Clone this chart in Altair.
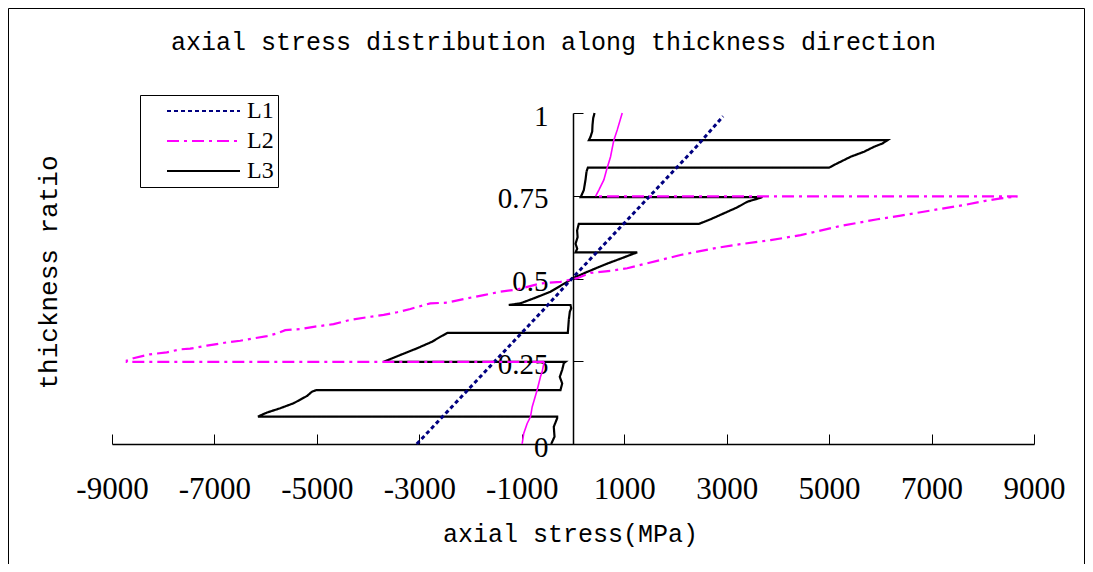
import altair as alt
import pandas as pd

# ---------------- data ----------------
series_names = ["L1", "L2", "L3"]
series_colors = ["#000080", "#FF00FF", "#000000"]
series_dash = [[4, 3], [12, 5, 3, 5], [1, 0]]

l1_x = [-3050, -2440, -1830, -1220, -610, -20, 590, 1200, 1810, 2420, 2930]
l1_y = [0.0, 0.1, 0.2, 0.3, 0.4, 0.5, 0.6, 0.7, 0.8, 0.9, 0.99]

l2_low_x = [-993, -962, -895, -830, -797, -700, -635, -602, -570, -560]
l2_low_y = [0.0, 0.032, 0.062, 0.082, 0.112, 0.163, 0.203, 0.218, 0.244, 0.248]

l2_mid_x = [-560, -8711, -8711, -8582, -8256, -7930, -7670, -7475, -7148, -6757,
            -6497, -6237, -5975, -5780, -5618, -5325, -5065, -4674, -4348, -4021,
            -3697, -3435, -3175, -2785, -2458, -2067, -1743, -1417, -1090, -635,
            -244, 82, 342, 733, 1059, 1450, 2100, 2751, 3142, 3859,
            4445, 5227, 5944, 6400, 7050, 7636, 8027, 8353, 8680, 440]
l2_mid_y = [0.248, 0.248, 0.252, 0.259, 0.271, 0.277, 0.286, 0.288, 0.297, 0.307,
            0.312, 0.319, 0.326, 0.334, 0.344, 0.347, 0.354, 0.362, 0.375, 0.383,
            0.390, 0.398, 0.408, 0.425, 0.427, 0.440, 0.450, 0.460, 0.467, 0.485,
            0.490, 0.501, 0.517, 0.523, 0.531, 0.546, 0.571, 0.591, 0.601, 0.616,
            0.631, 0.659, 0.679, 0.690, 0.707, 0.722, 0.734, 0.742, 0.748, 0.748]

l2_top_x = [440, 504, 602, 655, 733, 797, 864, 961]
l2_top_y = [0.748, 0.767, 0.798, 0.828, 0.868, 0.918, 0.949, 1.0]

l3_x = [-426, -361, -375, -309, -309, -6150, -5975, -5716, -5456, -5194,
        -5096, -5010, -244, -211, -258, -211, -180, -147, -3700, -3371,
        -3045, -2752, -2589, -2446, -101, -82, -62, -35, -49, -1254,
        -1026, -766, -440, -113, -16, 277, 668, 928, 1254, 50,
        82, 50, 90, 80, 113, 2458, 2687, 2947, 3208, 3404,
        3599, 3700, 150, 211, 244, 264, 290, 5000, 5162, 5423,
        5683, 5878, 6042, 6140, 310, 342, 375, 381, 394, 420]
l3_y = [0.0, 0.022, 0.052, 0.078, 0.083, 0.083, 0.095, 0.108, 0.123, 0.145,
        0.158, 0.163, 0.163, 0.183, 0.203, 0.224, 0.244, 0.248, 0.248, 0.269,
        0.289, 0.309, 0.324, 0.336, 0.336, 0.375, 0.400, 0.410, 0.420, 0.420,
        0.425, 0.440, 0.460, 0.490, 0.500, 0.520, 0.545, 0.560, 0.579, 0.579,
        0.590, 0.605, 0.625, 0.645, 0.665, 0.665, 0.679, 0.697, 0.715, 0.732,
        0.741, 0.746, 0.746, 0.767, 0.798, 0.823, 0.835, 0.835, 0.848, 0.868,
        0.883, 0.898, 0.908, 0.918, 0.918, 0.928, 0.944, 0.964, 0.984, 1.0]

x_ticks = [-9000, -7000, -5000, -3000, -1000, 1000, 3000, 5000, 7000, 9000]
y_ticks = [0, 0.25, 0.5, 0.75, 1]

title_text = "axial stress distribution along thickness direction"
x_title = "axial stress(MPa)"
y_title = "thickness ratio"


def frame(name, xs, ys, part="main"):
    return pd.DataFrame({"series": name, "part": part, "x": xs, "y": ys,
                         "i": list(range(len(xs)))})


df1 = frame("L1", l1_x, l1_y)
df2 = frame("L2", l2_mid_x, l2_mid_y)
df2s = pd.concat([frame("L2", l2_low_x, l2_low_y, "low"),
                  frame("L2", l2_top_x, l2_top_y, "top")])
df3 = frame("L3", l3_x, l3_y)

# ---------------- layout ----------------
W, H = 1077, 556
AX_X, AX_Y = 565, 436
MONO = "Liberation Mono"
SERIF = "Liberation Serif"

xscale = alt.Scale(domain=[-9000, 9000], range=[104, 1026], nice=False, zero=False)
yscale = alt.Scale(domain=[0, 1], range=[436, 105], nice=False, zero=False)
cscale = alt.Scale(domain=series_names, range=series_colors)
dscale = alt.Scale(domain=series_names, range=series_dash)

legend = alt.Legend(
    title=None, orient="none", legendX=132, legendY=87,
    symbolType="M1.1,0H8.4", symbolSize=400, symbolStrokeWidth=2,
    labelOffset=79, labelExpr="datum.label + '   '",
    labelFont=SERIF, labelFontSize=24, labelColor="black",
    padding=4, rowPadding=6, strokeColor="black", fillColor="white",
)

x_tick_axis = alt.Axis(orient="top", offset=-AX_Y, values=x_ticks, labels=False,
                       ticks=True, tickSize=10, tickColor="black", tickWidth=1,
                       domain=True, domainColor="black", domainWidth=1.5,
                       grid=False, title=None)
y_tick_axis = alt.Axis(orient="right", offset=AX_X - W, values=y_ticks, labels=False,
                       ticks=True, tickSize=10, tickColor="black", tickWidth=1,
                       domain=True, domainColor="black", domainWidth=1.5,
                       grid=False, title=None)
x_label_axis = alt.Axis(orient="bottom", offset=AX_Y - H, values=x_ticks,
                        ticks=False, tickSize=0, domain=False, grid=False,
                        labelExpr="'' + datum.value", labelFont=SERIF, labelFontSize=31,
                        labelColor="black", labelPadding=45, labelBaseline="middle",
                        labelAngle=0, labelFlush=False, labelOverlap=False,
                        title=x_title, titleFont=MONO, titleFontSize=25,
                        titleFontWeight="normal", titleColor="black",
                        titleX=562, titleY=89, titleBaseline="middle", titleAlign="center")
y_label_axis = alt.Axis(orient="left", offset=-AX_X, values=y_ticks,
                        ticks=False, tickSize=0, domain=False, grid=False,
                        labelExpr="'' + datum.value", labelFont=SERIF, labelFontSize=29,
                        labelColor="black", labelPadding=25, labelOffset=3,
                        labelFlush=False, labelOverlap=False,
                        title=y_title, titleFont=MONO, titleFontSize=26,
                        titleFontWeight="normal", titleColor="black",
                        titleX=-525, titleY=264, titleAngle=270,
                        titleBaseline="middle", titleAlign="center")


def series_layer(df, width, xaxis, yaxis):
    return alt.Chart(df).mark_line(strokeWidth=width, clip=False).encode(
        x=alt.X("x:Q", scale=xscale, axis=xaxis),
        y=alt.Y("y:Q", scale=yscale, axis=yaxis),
        color=alt.Color("series:N", scale=cscale, legend=legend),
        strokeDash=alt.StrokeDash("series:N", scale=dscale, legend=legend),
        order=alt.Order("i:Q"),
    )


border = alt.Chart(alt.Data(values=[{"k": 0}])).mark_rect(
    fill="transparent", stroke="black", strokeWidth=1
).encode(x=alt.value(0.5), x2=alt.value(W - 0.5), y=alt.value(0.5), y2=alt.value(H + 40))

l3 = series_layer(df3, 2.2, x_tick_axis, y_tick_axis)
l1 = series_layer(df1, 3, None, None)
l2 = series_layer(df2, 2.2, None, None)
l2s = alt.Chart(df2s).mark_line(strokeWidth=1.6, color="#FF00FF").encode(
    x=alt.X("x:Q", scale=xscale, axis=x_label_axis),
    y=alt.Y("y:Q", scale=yscale, axis=y_label_axis),
    detail="part:N",
    order=alt.Order("i:Q"),
)

chart = alt.layer(border, l3, l1, l2, l2s).resolve_axis(
    x="independent", y="independent"
).properties(
    width=W, height=H, padding=0,
    autosize=alt.AutoSizeParams(type="none"),
    title=alt.TitleParams(text=title_text, font=MONO, fontSize=25, fontWeight="normal",
                          color="black", anchor="middle", frame="group", offset=0,
                          baseline="middle", dx=7, dy=59),
).configure_view(strokeWidth=0).configure(background="white")

chart.save("out.html", embed_options={"renderer": "svg", "actions": False})
